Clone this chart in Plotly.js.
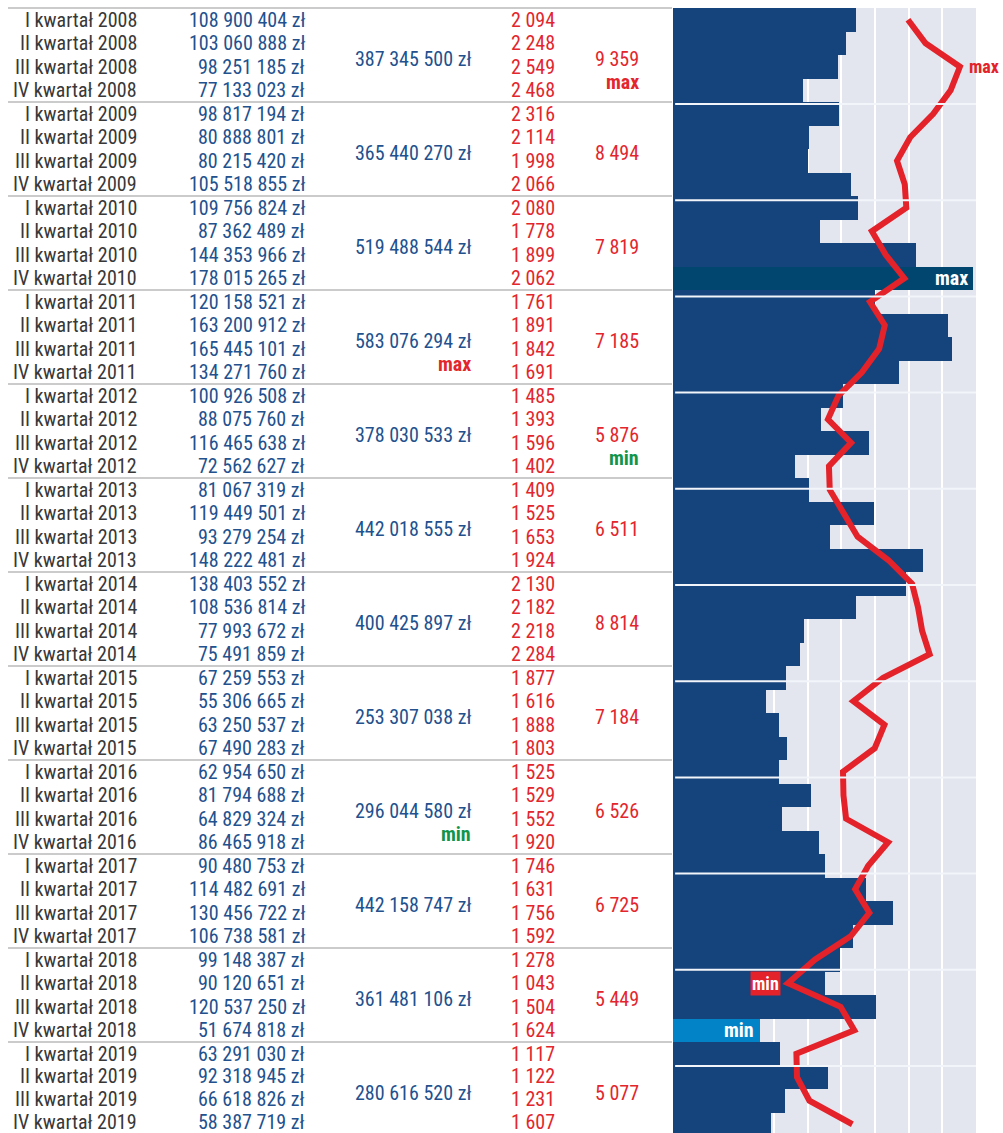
<!DOCTYPE html>
<html><head><meta charset="utf-8">
<script src="https://cdn.plot.ly/plotly-3.0.1.min.js"></script>
<style>html,body{margin:0;padding:0;background:#fff}#chart{width:1003px;height:1133px}</style>
</head><body><div id="chart"></div>
<script>
// ---------------- DATA ----------------
const years = [2008, 2009, 2010, 2011, 2012, 2013, 2014, 2015, 2016, 2017, 2018, 2019];
const quarterNames = ['I', 'II', 'III', 'IV'];
const amounts = [
  108900404, 103060888, 98251185, 77133023,
  98817194, 80888801, 80215420, 105518855,
  109756824, 87362489, 144353966, 178015265,
  120158521, 163200912, 165445101, 134271760,
  100926508, 88075760, 116465638, 72562627,
  81067319, 119449501, 93279254, 148222481,
  138403552, 108536814, 77993672, 75491859,
  67259553, 55306665, 63250537, 67490283,
  62954650, 81794688, 64829324, 86465918,
  90480753, 114482691, 130456722, 106738581,
  99148387, 90120651, 120537250, 51674818,
  63291030, 92318945, 66618826, 58387719
];
const counts = [
  2094, 2248, 2549, 2468,
  2316, 2114, 1998, 2066,
  2080, 1778, 1899, 2062,
  1761, 1891, 1842, 1691,
  1485, 1393, 1596, 1402,
  1409, 1525, 1653, 1924,
  2130, 2182, 2218, 2284,
  1877, 1616, 1888, 1803,
  1525, 1529, 1552, 1920,
  1746, 1631, 1756, 1592,
  1278, 1043, 1504, 1624,
  1117, 1122, 1231, 1607
];
const yearAmountTotals = [387345500, 365440270, 519488544, 583076294, 378030533, 442018555,
  400425897, 253307038, 296044580, 442158747, 361481106, 280616520];
const yearCountTotals = [9359, 8494, 7819, 7185, 5876, 6511, 8814, 7184, 6526, 6725, 5449, 5077];
const amountTotalMaxYear = 2011, amountTotalMinYear = 2016;
const countTotalMaxYear = 2008, countTotalMinYear = 2012;

// ---------------- STYLE / LAYOUT ----------------
const W = 1003, H = 1133, TOP = 8, ROW = 23.5;
const FONT = 'Liberation Sans Narrow, Arial Narrow, Roboto Condensed, DejaVu Sans Condensed, sans-serif';
const C_GRAY_TXT = '#383838', C_BLUE_TXT = '#22518e', C_RED = '#e3262d', C_GREEN = '#12954a';
const C_BAR = '#15437b', C_BAR_MAX = '#00466f', C_BAR_MIN = '#0383c7', C_LINE = '#e4222a';
const yTop = -0.5 - TOP / ROW;
const yBot = -0.5 + (H - TOP) / ROW;
const COL = {label: 138, amount: 306, yearAmount: 472, count: 556, yearCount: 640};

const rows = amounts.map((_, i) => i);
const labels = [];
years.forEach(y => quarterNames.forEach(q => labels.push(q + ' kwartał ' + y)));
const fmt = n => String(n).replace(/\B(?=(\d{3})+(?!\d))/g, ' ');

const iMaxA = amounts.indexOf(Math.max(...amounts));
const iMinA = amounts.indexOf(Math.min(...amounts));
const iMaxC = counts.indexOf(Math.max(...counts));
const iMinC = counts.indexOf(Math.min(...counts));
const lastRow = rows.length - 1;

const barColors = amounts.map((_, i) => i === iMaxA ? C_BAR_MAX : (i === iMinA ? C_BAR_MIN : C_BAR));

const traces = [
  {type: 'scatter', x: [], y: [], xaxis: 'x', yaxis: 'y', showlegend: false, hoverinfo: 'skip'},
  {type: 'bar', orientation: 'h', x: amounts, y: rows, xaxis: 'x2', yaxis: 'y2', width: 1,
   marker: {color: barColors, line: {width: 0}}, showlegend: false, hoverinfo: 'skip'},
  {type: 'scatter', mode: 'lines', x: counts, y: rows, xaxis: 'x3', yaxis: 'y2',
   line: {color: C_LINE, width: 6}, showlegend: false, hoverinfo: 'skip', cliponaxis: true}
];

const ann = [];
const txt = (x, y, text, color, opts) => Object.assign({
  xref: 'x', yref: 'y', x: x, y: y, text: text, showarrow: false, xanchor: 'right', yanchor: 'middle',
  font: {family: FONT, size: 20, color: color}, borderpad: 0
}, opts || {});
rows.forEach(i => {
  // tiny upward nudge of the last rows so the bottom row stays inside the picture
  const o = {yshift: Math.max(0, i - (lastRow - 3)) * 0.85};
  ann.push(txt(COL.label, i, labels[i], C_GRAY_TXT, o));
  ann.push(txt(COL.amount, i, fmt(amounts[i]) + ' zł', C_BLUE_TXT, o));
  ann.push(txt(COL.count, i, fmt(counts[i]), C_RED, o));
});
years.forEach((yr, k) => {
  const yc = k * 4 + 1.67;
  ann.push(txt(COL.yearAmount, yc, fmt(yearAmountTotals[k]) + ' zł', C_BLUE_TXT));
  ann.push(txt(COL.yearCount, yc, fmt(yearCountTotals[k]), C_RED));
  const bold = (x, col, t) => ann.push(txt(x, k * 4 + 2.67, '<b>' + t + '</b>', col));
  if (yr === amountTotalMaxYear) bold(COL.yearAmount, C_RED, 'max');
  if (yr === amountTotalMinYear) bold(COL.yearAmount, C_GREEN, 'min');
  if (yr === countTotalMaxYear) bold(COL.yearCount, C_RED, 'max');
  if (yr === countTotalMinYear) bold(COL.yearCount, C_GREEN, 'min');
});
// bar badges
ann.push(txt(amounts[iMaxA], iMaxA, '<b>max</b>', '#ffffff', {xref: 'x2', yref: 'y2', xshift: -4}));
ann.push(txt(amounts[iMinA], iMinA, '<b>min</b>', '#ffffff', {xref: 'x2', yref: 'y2', xshift: -5}));
// line badges
ann.push(txt(counts[iMaxC], iMaxC, '<b>max</b>', C_LINE, {xref: 'x3', yref: 'y2', xanchor: 'left', xshift: 8, font: {family: FONT, size: 18, color: C_LINE}}));
ann.push(txt(counts[iMinC], iMinC, '<b>min</b>', '#ffffff', {xref: 'x3', yref: 'y2', xshift: -7, bgcolor: C_LINE, borderpad: 1, font: {family: FONT, size: 18, color: '#ffffff'}}));

const shapes = [
  {type: 'rect', xref: 'x2 domain', x0: 0, x1: 1, yref: 'y2', y0: -0.5, y1: yBot + 2,
   fillcolor: '#e3e6ef', line: {width: 0}, layer: 'below'}
];
const SEP_FIRST = 104, SEP_STEP = 96.2;
for (let k = 0; k < 11; k++) {
  const py = 1 - (SEP_FIRST + k * SEP_STEP) / H;
  shapes.push({type: 'line', xref: 'x2 domain', x0: 0.007, x1: 1, yref: 'paper', y0: py, y1: py,
    line: {color: '#f2f5fa', width: 2}, layer: 'above'});
}

const layout = {
  width: W, height: H, margin: {l: 0, r: 0, t: 0, b: 0, pad: 0},
  paper_bgcolor: '#ffffff', plot_bgcolor: 'rgba(0,0,0,0)',
  font: {family: FONT}, showlegend: false, bargap: 0,
  xaxis: {domain: [8 / W, 672 / W], range: [8, 672], visible: false, fixedrange: true},
  yaxis: {domain: [0, 1], range: [yBot, yTop], showgrid: true, gridcolor: '#cbcbcb', gridwidth: 1.5,
    tickmode: 'linear', tick0: -0.5, dtick: 4, showticklabels: false, ticks: '', zeroline: false, showline: false, fixedrange: true},
  xaxis2: {domain: [673 / W, 976 / W], range: [0, 180e6], anchor: 'y2', showgrid: true, gridcolor: '#ffffff', gridwidth: 2,
    tickmode: 'linear', tick0: 0, dtick: 20e6, showticklabels: false, ticks: '', zeroline: false, showline: false, fixedrange: true},
  yaxis2: {domain: [0, 1], range: [yBot, yTop], anchor: 'x2', showgrid: false, showticklabels: false, ticks: '',
    zeroline: false, showline: false, fixedrange: true},
  xaxis3: {overlaying: 'x2', anchor: 'y2', range: [36, 2690], visible: false, fixedrange: true},
  annotations: ann, shapes: shapes
};

Plotly.newPlot('chart', traces, layout, {staticPlot: true, displayModeBar: false});
</script></body></html>
